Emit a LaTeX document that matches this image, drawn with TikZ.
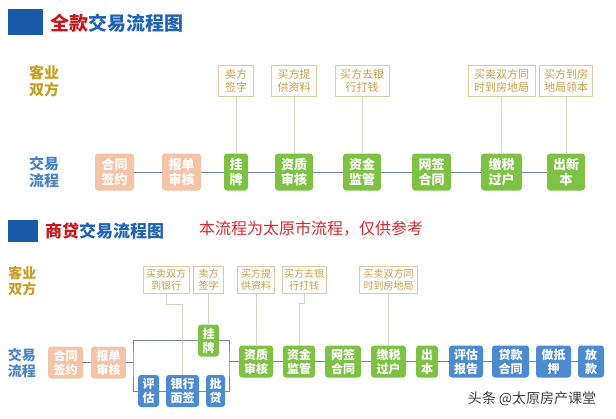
\documentclass[tikz,border=0pt]{standalone}
\usepackage{fontspec}
\setmainfont{Noto Sans CJK SC}
\usepackage{tikz}
\usetikzlibrary{positioning}

\definecolor{markblue}{RGB}{26,91,168}
\definecolor{titleblue}{RGB}{30,99,180}
\definecolor{titlered}{RGB}{200,22,29}
\definecolor{notered}{RGB}{217,39,46}
\definecolor{partygold}{RGB}{201,157,35}
\definecolor{flowblue}{RGB}{74,131,196}
\definecolor{peach}{RGB}{245,196,166}
\definecolor{leafgreen}{RGB}{125,194,67}
\definecolor{loanblue}{RGB}{76,139,208}
\definecolor{notegold}{RGB}{196,160,70}
\definecolor{noteedge}{RGB}{220,205,160}
\definecolor{leadgray}{RGB}{215,210,195}
\definecolor{linegray}{RGB}{111,134,166}

\begin{document}
\begin{tikzpicture}[
    x=1pt, y=-1pt,
    title/.style={
        anchor=west,
        inner sep=0pt,
        text=titleblue,
        font=\bfseries
    },
    side/.style={
        align=center,
        inner sep=0pt,
        font=\fontsize{15}{17}\selectfont\bfseries
    },
    flowbox/.style={
        rounded corners=3pt,
        text=white,
        align=center,
        inner sep=0pt,
        font=\fontsize{13}{15}\selectfont\bfseries
    },
    peachbox/.style={flowbox, fill=peach},
    greenbox/.style={flowbox, fill=leafgreen},
    bluebox/.style={flowbox, fill=loanblue},
    notebox/.style={
        draw=noteedge,
        text=notegold,
        align=center,
        inner sep=0pt,
        font=\fontsize{11}{13}\selectfont
    },
    link/.style={draw=linegray, line width=1pt},
    lead/.style={draw=leadgray, line width=0.8pt}
]
\useasboundingbox (0,0) rectangle (616,418);

% full payment
\node[fill=markblue, minimum width=35pt, minimum height=26pt, inner sep=0pt] (mark1) at (25.5,22) {};
\node[title, font=\fontsize{19}{21}\selectfont\bfseries] (title1) at (50,23) {\textcolor{titlered}{全款}交易流程图};

\node[side, text=partygold] (party1) at (44,81) {客业\\双方};
\node[side, text=flowblue] (flow1) at (44,172) {交易\\流程};

\tikzset{row1/.style={minimum height=37pt}}
\node[peachbox, row1, minimum width=39pt] (contract1) at (114.5,172) {合同\\签约};
\node[peachbox, row1, minimum width=39pt] (review1) at (181.5,172) {报单\\审核};
\node[greenbox, row1, minimum width=24pt] (list1) at (236,172) {挂\\牌};
\node[greenbox, row1, minimum width=38pt] (check1) at (294,172) {资质\\审核};
\node[greenbox, row1, minimum width=38pt] (escrow1) at (362,172) {资金\\监管};
\node[greenbox, row1, minimum width=39pt] (online1) at (431.5,172) {网签\\合同};
\node[greenbox, row1, minimum width=41pt] (tax1) at (501.5,172) {缴税\\过户};
\node[greenbox, row1, minimum width=38pt] (cert1) at (566,172) {出新\\本};

\tikzset{note1/.style={notebox, minimum height=31pt}}
\node[note1, minimum width=35pt] (sign1) at (236,80.5) {卖方\\签字};
\node[note1, minimum width=45pt] (docs1) at (294,80.5) {买方提\\供资料};
\node[note1, minimum width=54pt] (pay1) at (362,80.5) {买方去银\\行打钱};
\node[note1, minimum width=67pt] (meet1) at (501.5,80.5) {买卖双方同\\时到房地局};
\node[note1, minimum width=53pt] (fetch1) at (566,80.5) {买方到房\\地局领本};

\draw[link] (contract1) -- (review1) -- (list1) -- (check1) -- (escrow1) -- (online1) -- (tax1) -- (cert1);

\draw[lead] (sign1) -- (list1);
\draw[lead] (docs1) -- (check1);
\draw[lead] (pay1) -- (escrow1);
\draw[lead] (meet1) -- (tax1);
\draw[lead] (fetch1) -- (cert1);

% commercial loan
\node[fill=markblue, minimum width=30pt, minimum height=22pt, inner sep=0pt] (mark2) at (23,231) {};
\node[title, font=\fontsize{17}{19}\selectfont\bfseries] (title2) at (45,231) {\textcolor{titlered}{商贷}交易流程图};
\node[anchor=west, inner sep=0pt, text=notered, font=\fontsize{16}{18}\selectfont] (hint) at (199,229) {本流程为太原市流程，仅供参考};

\node[side, text=partygold, font=\fontsize{14}{16}\selectfont\bfseries] (party2) at (22.5,281) {客业\\双方};
\node[side, text=flowblue, font=\fontsize{14}{16}\selectfont\bfseries] (flow2) at (22,363) {交易\\流程};

\tikzset{row2/.style={minimum height=32pt, font=\fontsize{12}{14}\selectfont\bfseries}}
\node[peachbox, row2, minimum width=35pt] (contract2) at (65.5,362.5) {合同\\签约};
\node[peachbox, row2, minimum width=35pt] (review2) at (108.5,362.5) {报单\\审核};
\node[greenbox, row2, minimum width=21pt] (list2) at (208.5,340.5) {挂\\牌};
\node[bluebox, row2, minimum width=21pt] (value2) at (148.5,391) {评\\估};
\node[bluebox, row2, minimum width=33pt] (face2) at (182.5,391) {银行\\面签};
\node[bluebox, row2, minimum width=19pt] (approve2) at (215.5,391) {批\\贷};
\node[greenbox, row2, minimum width=34pt] (check2) at (256,361.5) {资质\\审核};
\node[greenbox, row2, minimum width=32pt] (escrow2) at (299,361.5) {资金\\监管};
\node[greenbox, row2, minimum width=36pt] (online2) at (343,361.5) {网签\\合同};
\node[greenbox, row2, minimum width=35pt] (tax2) at (388.5,361.5) {缴税\\过户};
\node[greenbox, row2, minimum width=22pt] (cert2) at (427,361.5) {出\\本};
\node[bluebox, row2, minimum width=34pt] (report2) at (466,361.5) {评估\\报告};
\node[bluebox, row2, minimum width=37pt] (loan2) at (510.5,361.5) {贷款\\合同};
\node[bluebox, row2, minimum width=35pt] (pledge2) at (553.5,361.5) {做抵\\押};
\node[bluebox, row2, minimum width=26pt] (lend2) at (591,361.5) {放\\款};

\tikzset{note2/.style={notebox, minimum height=27pt, font=\fontsize{10}{12}\selectfont}}
\node[note2, minimum width=46pt] (bank2) at (166,279.5) {买卖双方\\到银行};
\node[note2, minimum width=30pt] (sign2) at (208.5,279.5) {卖方\\签字};
\node[note2, minimum width=37pt] (docs2) at (256,279.5) {买方提\\供资料};
\node[note2, minimum width=44pt] (pay2) at (304,279.5) {买方去银\\行打钱};
\node[note2, minimum width=58pt] (meet2) at (388.5,279.5) {买卖双方同\\时到房地局};

\coordinate (split) at (133,362.5);
\coordinate (join) at (229,361.5);

\draw[link] (contract2) -- (review2) -- (split);
\draw[link] (list2.west) -| (split) |- (value2.west);
\draw[link] (value2) -- (face2) -- (approve2);
\draw[link] (list2.east) -| (join) |- (approve2.east);
\draw[link] (join) -- (check2) -- (escrow2) -- (online2) -- (tax2) -- (cert2) -- (report2) -- (loan2) -- (pledge2) -- (lend2);

\draw[lead] (bank2.south) -- ++(0,11) -| (face2.north);
\draw[lead] (sign2) -- (list2);
\draw[lead] (docs2) -- (check2);
\draw[lead] (pay2.south) -- ++(0,10) -| (escrow2.north);
\draw[lead] (meet2) -- (tax2);

\node[text=black!75, inner sep=0pt, font=\fontsize{14}{16}\selectfont] (credit) at (532,399) {头条 @太原房产课堂};

\end{tikzpicture}
\end{document}
